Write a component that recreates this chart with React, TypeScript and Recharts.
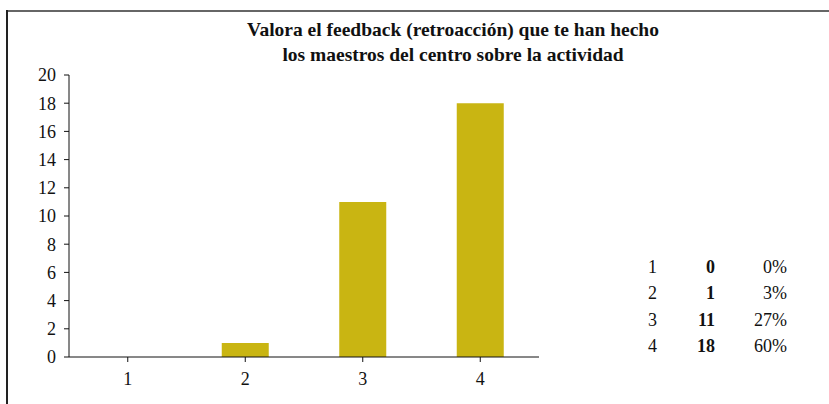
import { BarChart, Bar, XAxis, YAxis } from 'recharts'

// ==================== || FEEDBACK DE LOS MAESTROS - BAR CHART ||==================== //

const categories = ['1', '2', '3', '4']
const counts = [0, 1, 11, 18]
const percents = ['0%', '3%', '27%', '60%']
const yTicks = [0, 2, 4, 6, 8, 10, 12, 14, 16, 18, 20]

const titleLines = [
    'Valora el feedback (retroacción) que te han hecho',
    'los maestros del centro sobre la actividad',
]

const FONT = "'Liberation Serif', 'DejaVu Serif', serif"
const BAR_COLOR = '#C9B512'

const data = categories.map((c, i) => ({ name: c, value: counts[i] }))

const App = () => {
    const tickStyle = { fill: '#111', fontSize: 18, fontFamily: FONT }

    return (
        <div
            style={{
                position: 'absolute',
                left: 0,
                top: 0,
                width: 829,
                height: 404,
                background: '#fff',
                fontFamily: FONT,
                overflow: 'hidden',
            }}
        >
            {/* frame */}
            <div style={{ position: 'absolute', left: 6, top: 10, width: 823, height: 2, background: '#666' }} />
            <div style={{ position: 'absolute', left: 6, top: 10, width: 2, height: 394, background: '#222' }} />

            {/* title */}
            <div
                style={{
                    position: 'absolute',
                    left: 203,
                    width: 500,
                    top: 17,
                    textAlign: 'center',
                    fontWeight: 'bold',
                    fontSize: 19.5,
                    lineHeight: '25px',
                    color: '#111',
                    whiteSpace: 'nowrap',
                }}
            >
                {titleLines.map((t) => (
                    <div key={t}>{t}</div>
                ))}
            </div>

            <div style={{ position: 'absolute', left: 0, top: 0 }}>
                <BarChart
                    width={829}
                    height={404}
                    data={data}
                    margin={{ top: 75, right: 290, bottom: 17, left: 0 }}
                    barCategoryGap="30%"
                    style={{ fontFamily: FONT }}
                >
                    <XAxis
                        dataKey="name"
                        height={30}
                        tick={tickStyle}
                        tickSize={5}
                        tickMargin={10}
                        axisLine={{ stroke: '#111' }}
                        tickLine={{ stroke: '#111' }}
                        interval={0}
                    />
                    <YAxis
                        width={69}
                        domain={[0, 20]}
                        ticks={yTicks}
                        interval={0}
                        tick={tickStyle}
                        tickSize={5}
                        tickMargin={8}
                        axisLine={{ stroke: '#111' }}
                        tickLine={{ stroke: '#111' }}
                    />
                    <Bar dataKey="value" fill={BAR_COLOR} isAnimationActive={false} />
                </BarChart>
            </div>

            {/* summary table */}
            {categories.map((c, i) => (
                <div
                    key={c}
                    style={{
                        position: 'absolute',
                        left: 640,
                        top: 256 + i * 26.3,
                        width: 150,
                        height: 22,
                        fontSize: 18,
                        lineHeight: '22px',
                        color: '#111',
                    }}
                >
                    <span style={{ position: 'absolute', left: 8 }}>{c}</span>
                    <span style={{ position: 'absolute', right: 75, fontWeight: 'bold' }}>
                        {counts[i]}
                    </span>
                    <span style={{ position: 'absolute', right: 3 }}>{percents[i]}</span>
                </div>
            ))}
        </div>
    )
}

export default App
